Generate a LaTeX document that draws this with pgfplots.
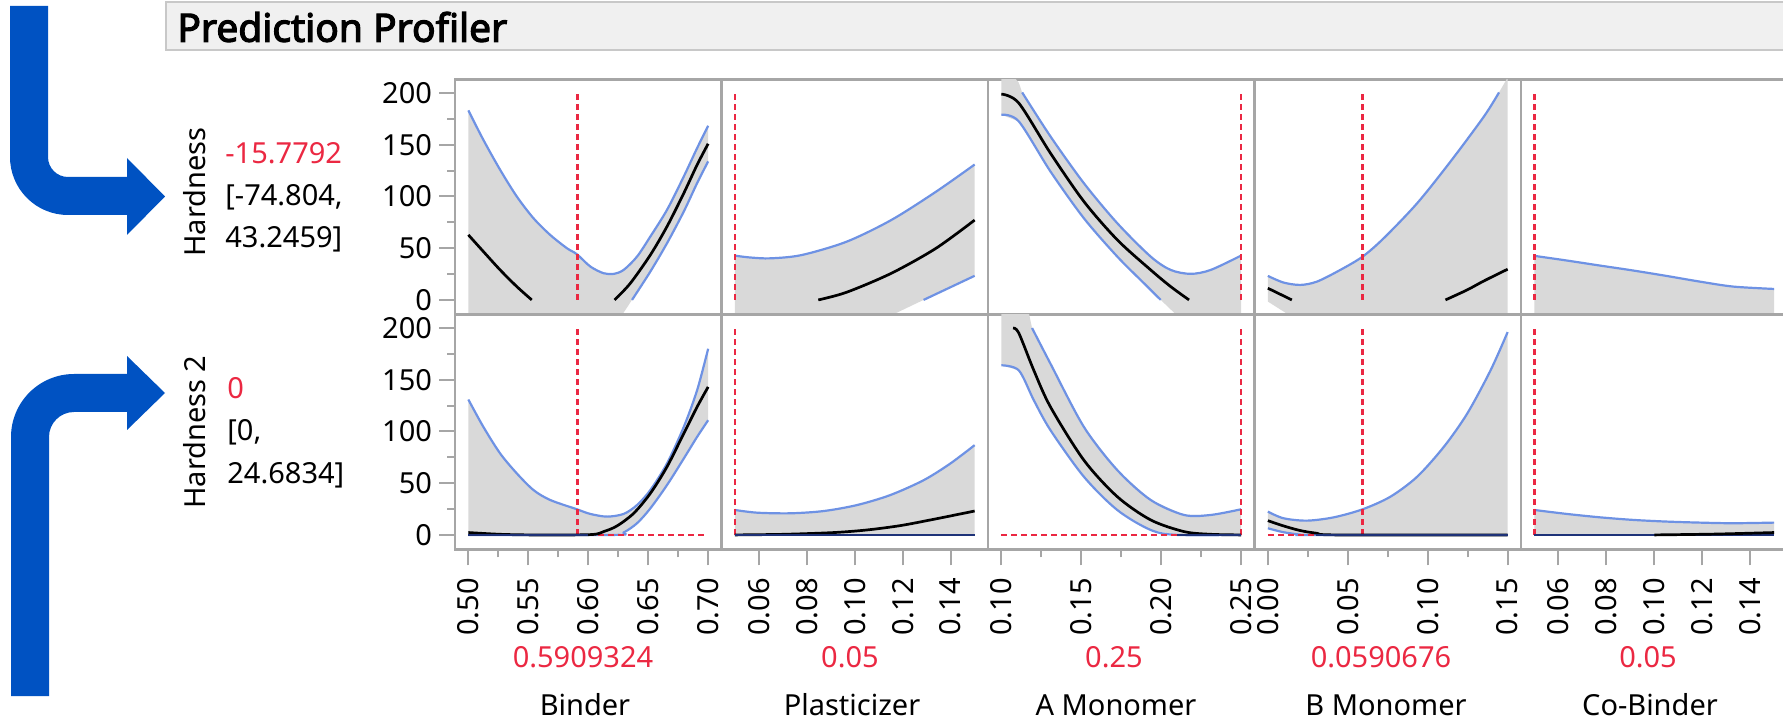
\documentclass[border=0pt]{standalone}
\usepackage{fontspec}
\setmainfont{Noto Sans}
\newfontfamily\titlefont{Noto Sans}[FakeBold=3]
\usepackage{pgfplots}
\pgfplotsset{compat=1.18}

\definecolor{framegray}{RGB}{166,166,166}
\definecolor{bandgray}{RGB}{217,217,217}
\definecolor{cib}{RGB}{110,146,228}
\definecolor{jmpred}{RGB}{235,40,66}
\definecolor{navy}{RGB}{30,50,120}
\definecolor{arrowblue}{RGB}{0,82,194}
\definecolor{titlefill}{RGB}{240,240,240}
\definecolor{titleedge}{RGB}{200,200,200}

\pgfplotsset{
  prof/.style={
    anchor=south west, scale only axis,
    width=133.25pt, height=117.5pt,
    ymin=-13.9, ymax=213.3,
    axis line style={draw=framegray, line width=1.3pt},
    xtick=\empty, ytick=\empty,
    tick align=outside, tick pos=left,
    major tick length=8pt, minor tick length=4pt,
    tick style={draw=framegray, line width=1pt},
    ticklabel style={font=\fontsize{14.5}{17}\selectfont, text=black},
    /pgf/number format/assume math mode=true,
    scaled ticks=false,
  },
  firstcol/.style={
    ytick={0,50,100,150,200}, minor ytick={25,75,125,175},
    yticklabel={\pgfmathprintnumber{\tick}},
  },
  botrow/.style={
    xticklabel={\pgfmathprintnumber[fixed,fixed zerofill,precision=2]{\tick}},
    xticklabel style={rotate=90, anchor=east},
    xticklabel shift=3pt,
  },
  band/.style={fill=bandgray, draw=none},
  ci/.style={cib, line width=1.1pt, smooth, tension=0.5},
  pred/.style={black, line width=1.35pt, smooth, tension=0.5},
  ref/.style={jmpred, line width=1.3pt, dash pattern=on 3pt off 2pt},
  zero/.style={navy, line width=1.35pt},
}

\begin{document}
\begin{tikzpicture}[font=\fontsize{14.5}{17}\selectfont]
\path[use as bounding box] (0,0) rectangle (891.5pt,-360.5pt);

% title bar and arrows (1 unit = one pixel of the reference)
\begin{scope}[x=0.5pt, y=-0.5pt]
  \filldraw[fill=titlefill, draw=titleedge, line width=1pt] (166,2) rectangle (1800,50);
  \node[anchor=west, inner sep=0pt, font=\fontsize{19.5}{23}\titlefont] at (177,27) {Prediction Profiler};
  \fill[arrowblue] (10,6) -- (10,157) arc[start angle=180, end angle=90, radius=58]
    -- (127,215) -- (127,235) -- (165,196.5) -- (127,158) -- (127,177) -- (68,177)
    arc[start angle=90, end angle=180, radius=20] -- (48,6) -- cycle;
  \fill[arrowblue] (11,696) -- (11,437) arc[start angle=180, end angle=270, radius=63]
    -- (127,374) -- (127,356) -- (165,393) -- (127,430) -- (127,412) -- (74,412)
    arc[start angle=270, end angle=180, radius=25] -- (49,696) -- cycle;
  % response labels
  \node[rotate=90] at (195,192) {Hardness};
  \node[rotate=90] at (195,432) {Hardness 2};
  \node[anchor=base west, inner sep=0pt, text=jmpred] at (225,164) {-15.7792};
  \node[anchor=base west, inner sep=0pt] at (225,206) {[-74.804,};
  \node[anchor=base west, inner sep=0pt] at (225,248) {43.2459]};
  \node[anchor=base west, inner sep=0pt, text=jmpred] at (227,399) {0};
  \node[anchor=base west, inner sep=0pt] at (227,441) {[0,};
  \node[anchor=base west, inner sep=0pt] at (227,483) {24.6834]};
  % factor settings and names
  \node[text=jmpred] at (583,657) {0.5909324};
  \node[text=jmpred] at (850,657) {0.05};
  \node[text=jmpred] at (1114,657) {0.25};
  \node[text=jmpred] at (1381,657) {0.0590676};
  \node[text=jmpred] at (1648,657) {0.05};
  \node at (585,705) {Binder};
  \node at (852,705) {Plasticizer};
  \node at (1116,705) {A Monomer};
  \node at (1386,705) {B Monomer};
  \node at (1650,705) {Co-Binder};
\end{scope}

%---------------- Hardness (top row)
\begin{axis}[prof, firstcol, at={(227.5pt,-157.15pt)}, xmin=0.48886, xmax=0.71114]
\addplot[band] coordinates {(0.5,183.2) (0.5125,154.8) (0.5265,125.8) (0.5404,100.0) (0.5543,79.0) (0.5682,62.9) (0.5822,50.0) (0.5905,44.2) (0.6017,32.3) (0.6128,25.8) (0.6212,25.2) (0.6295,29.0) (0.6407,41.9) (0.6518,61.3) (0.6657,87.1) (0.6797,119.4) (0.6908,146.8) (0.7,168.4) (0.7,133.9) (0.6908,112.9) (0.6797,85.5) (0.6657,54.8) (0.6518,27.4) (0.6365,0) (0.6295,-12.3) (0.6194,-30) (0.5,-30)};
\addplot[ci] coordinates {(0.5,183.2) (0.5125,154.8) (0.5265,125.8) (0.5404,100.0) (0.5543,79.0) (0.5682,62.9) (0.5822,50.0) (0.5905,44.2) (0.6017,32.3) (0.6128,25.8) (0.6212,25.2) (0.6295,29.0) (0.6407,41.9) (0.6518,61.3) (0.6657,87.1) (0.6797,119.4) (0.6908,146.8) (0.7,168.4)};
\addplot[ci] coordinates {(0.6365,0) (0.6518,27.4) (0.6657,54.8) (0.6797,85.5) (0.6908,112.9) (0.7,133.9)};
\addplot[ref] coordinates {(0.5909324,0) (0.5909324,200)};
\addplot[pred] coordinates {(0.5,62.9) (0.5125,46.8) (0.5265,29.0) (0.5404,12.9) (0.5529,0)};
\addplot[pred] coordinates {(0.622,0) (0.6351,16.1) (0.6518,43.5) (0.6657,71.0) (0.6797,103.2) (0.6908,130.6) (0.7,151.0)};
\end{axis}

\begin{axis}[prof, at={(360.75pt,-157.15pt)}, xmin=0.04443, xmax=0.15557]
\addplot[band] coordinates {(0.05,42.8) (0.0565,41.0) (0.0649,40.2) (0.0779,43.4) (0.0966,56.3) (0.1152,77.2) (0.1338,104.5) (0.15,130.9) (0.15,23.3) (0.1287,0) (0.1176,-12.3) (0.1015,-30) (0.05,-30)};
\addplot[ci] coordinates {(0.05,42.8) (0.0565,41.0) (0.0649,40.2) (0.0779,43.4) (0.0966,56.3) (0.1152,77.2) (0.1338,104.5) (0.15,130.9)};
\addplot[ci] coordinates {(0.1287,0) (0.15,23.3)};
\addplot[ref] coordinates {(0.05,0) (0.05,200)};
\addplot[pred] coordinates {(0.0848,0) (0.0966,7.4) (0.1152,25.7) (0.1338,49.8) (0.15,77.2)};
\end{axis}

\begin{axis}[prof, at={(494pt,-157.15pt)}, xmin=0.09164, xmax=0.25836]
\addplot[band] coordinates {(0.1,230) (0.1109,210) (0.1130,200.6) (0.1307,158.1) (0.1516,112.9) (0.1725,74.2) (0.1934,41.9) (0.2059,29.0) (0.2184,25.2) (0.2310,29.0) (0.25,42.9) (0.25,-30) (0.2195,-30) (0.2080,-12.3) (0.1997,0) (0.1892,16.1) (0.1725,41.9) (0.1516,79.0) (0.1307,124.2) (0.1109,172.6) (0.1,179.0)};
\addplot[ci] coordinates {(0.1130,200.6) (0.1307,158.1) (0.1516,112.9) (0.1725,74.2) (0.1934,41.9) (0.2059,29.0) (0.2184,25.2) (0.2310,29.0) (0.25,42.9)};
\addplot[ci] coordinates {(0.1,179.0) (0.1109,172.6) (0.1307,124.2) (0.1516,79.0) (0.1725,41.9) (0.1892,16.1) (0.1997,0)};
\addplot[ref] coordinates {(0.25,0) (0.25,200)};
\addplot[pred] coordinates {(0.1,199.0) (0.1109,190.3) (0.1307,141.9) (0.1516,95.2) (0.1725,58.1) (0.1934,29.0) (0.2059,12.9) (0.2174,0)};
\end{axis}

\begin{axis}[prof, at={(627.25pt,-157.15pt)}, xmin=-0.00836, xmax=0.15836]
\addplot[band] coordinates {(0,23.2) (0.0098,16.8) (0.0203,14.5) (0.0307,17.7) (0.0453,29.0) (0.0593,41.9) (0.0725,59.7) (0.0934,93.5) (0.1143,133.9) (0.1352,177.4) (0.1446,200.6) (0.15,215) (0.15,230) (0.15,-30) (0.0165,-30) (0.0109,-12.3) (0,-1.6)};
\addplot[ci] coordinates {(0,23.2) (0.0098,16.8) (0.0203,14.5) (0.0307,17.7) (0.0453,29.0) (0.0593,41.9) (0.0725,59.7) (0.0934,93.5) (0.1143,133.9) (0.1352,177.4) (0.1446,200.6)};
\addplot[ref] coordinates {(0.0590676,0) (0.0590676,200)};
\addplot[pred] coordinates {(0,11.3) (0.015,0)};
\addplot[pred] coordinates {(0.1111,0) (0.1247,9.7) (0.1352,18.4) (0.15,29.7)};
\end{axis}

\begin{axis}[prof, at={(760.5pt,-157.15pt)}, xmin=0.04443, xmax=0.15557]
\addplot[band] coordinates {(0.05,42.6) (0.0635,38.1) (0.0774,33.2) (0.0913,28.4) (0.1051,23.2) (0.119,17.7) (0.1329,12.9) (0.15,10.6) (0.15,-30) (0.05,-30)};
\addplot[ci] coordinates {(0.05,42.6) (0.0635,38.1) (0.0774,33.2) (0.0913,28.4) (0.1051,23.2) (0.119,17.7) (0.1329,12.9) (0.15,10.6)};
\addplot[ref] coordinates {(0.05,0) (0.05,200)};
\end{axis}

%---------------- Hardness 2 (bottom row)
\begin{axis}[prof, firstcol, botrow, at={(227.5pt,-274.65pt)}, xmin=0.48886, xmax=0.71114,
  xtick={0.5,0.55,0.6,0.65,0.7}, minor xtick={0.525,0.575,0.625,0.675}]
\addplot[band] coordinates {(0.5,130.9) (0.5125,104.5) (0.5265,78.8) (0.5404,59.5) (0.5543,43.4) (0.5682,33.8) (0.5905,24.8) (0.6017,20.3) (0.6156,17.7) (0.6295,20.3) (0.6407,28.9) (0.6518,43.4) (0.6657,69.1) (0.6797,104.5) (0.6908,139.9) (0.7,180.0) (0.7,110.9) (0.6908,94.8) (0.6797,73.9) (0.6657,48.2) (0.6518,25.7) (0.6407,11.3) (0.6295,2.3) (0.6212,0) (0.5,0)};
\addplot[ci] coordinates {(0.5,130.9) (0.5125,104.5) (0.5265,78.8) (0.5404,59.5) (0.5543,43.4) (0.5682,33.8) (0.5905,24.8) (0.6017,20.3) (0.6156,17.7) (0.6295,20.3) (0.6407,28.9) (0.6518,43.4) (0.6657,69.1) (0.6797,104.5) (0.6908,139.9) (0.7,180.0)};
\addplot[ci] coordinates {(0.5,0) (0.6212,0) (0.6295,2.3) (0.6407,11.3) (0.6518,25.7) (0.6657,48.2) (0.6797,73.9) (0.6908,94.8) (0.7,110.9)};
\addplot[ref] coordinates {(0.5909324,0) (0.5909324,200)};
\addplot[ref] coordinates {(0.5,0) (0.7,0)};
\addplot[pred] coordinates {(0.5,2.3) (0.5265,0.6) (0.5543,0) (0.6017,0.3) (0.6128,3.2) (0.6240,8.7) (0.6379,20.9) (0.6518,40.2) (0.6657,65.9) (0.6797,98.1) (0.6908,123.8) (0.7,143.1)};
\addplot[zero] coordinates {(0.5,0) (0.6,0)};
\end{axis}

\begin{axis}[prof, botrow, at={(360.75pt,-274.65pt)}, xmin=0.04443, xmax=0.15557,
  xtick={0.06,0.08,0.10,0.12,0.14}]
\addplot[band] coordinates {(0.05,24.1) (0.0593,21.5) (0.0732,20.9) (0.0871,23.1) (0.101,28.9) (0.1149,38.6) (0.1288,53.0) (0.1399,69.1) (0.15,86.8) (0.15,0) (0.05,0)};
\addplot[ci] coordinates {(0.05,24.1) (0.0593,21.5) (0.0732,20.9) (0.0871,23.1) (0.101,28.9) (0.1149,38.6) (0.1288,53.0) (0.1399,69.1) (0.15,86.8)};
\addplot[ci] coordinates {(0.05,0) (0.15,0)};
\addplot[ref] coordinates {(0.05,0) (0.05,200)};
\addplot[ref] coordinates {(0.05,0) (0.15,0)};
\addplot[pred] coordinates {(0.05,0) (0.0704,0.6) (0.0913,2.3) (0.1051,4.8) (0.119,9.0) (0.1329,15.1) (0.15,23.1)};
\addplot[zero] coordinates {(0.05,0) (0.15,0)};
\end{axis}

\begin{axis}[prof, botrow, at={(494pt,-274.65pt)}, xmin=0.09164, xmax=0.25836,
  xtick={0.1,0.15,0.2,0.25}, minor xtick={0.125,0.175,0.225}]
\addplot[band] coordinates {(0.1,240) (0.1137,240) (0.1192,200) (0.1307,165.6) (0.1516,104.5) (0.1725,62.7) (0.1934,33.8) (0.2143,19.3) (0.2310,19.3) (0.25,24.8) (0.25,0) (0.2101,0) (0.1934,4.8) (0.1725,24.1) (0.1516,56.3) (0.1307,101.3) (0.1203,130.2) (0.1109,159.1) (0.1,164.0)};
\addplot[ci] coordinates {(0.1192,200) (0.1307,165.6) (0.1516,104.5) (0.1725,62.7) (0.1934,33.8) (0.2143,19.3) (0.2310,19.3) (0.25,24.8)};
\addplot[ci] coordinates {(0.1,164.0) (0.1109,159.1) (0.1203,130.2) (0.1307,101.3) (0.1516,56.3) (0.1725,24.1) (0.1934,4.8) (0.2101,0) (0.25,0)};
\addplot[ref] coordinates {(0.25,0) (0.25,200)};
\addplot[ref] coordinates {(0.1,0) (0.25,0)};
\addplot[pred] coordinates {(0.1073,200) (0.1109,195.2) (0.1203,159.1) (0.1307,123.8) (0.1516,72.3) (0.1725,37.0) (0.1934,14.5) (0.2143,3.2) (0.2310,0.6) (0.25,0)};
\addplot[zero] coordinates {(0.21,0) (0.25,0)};
\end{axis}

\begin{axis}[prof, botrow, at={(627.25pt,-274.65pt)}, xmin=-0.00836, xmax=0.15836,
  xtick={0,0.05,0.1,0.15}, minor xtick={0.025,0.075,0.125}]
\addplot[band] coordinates {(0,22.5) (0.0098,16.1) (0.0244,13.8) (0.0412,17.0) (0.0593,24.8) (0.0767,37.0) (0.0934,56.3) (0.1101,85.2) (0.1247,117.3) (0.1393,159.1) (0.15,196.1) (0.15,0) (0.0265,0) (0.0203,0.3) (0.0098,2.6) (0,6.4)};
\addplot[ci] coordinates {(0,22.5) (0.0098,16.1) (0.0244,13.8) (0.0412,17.0) (0.0593,24.8) (0.0767,37.0) (0.0934,56.3) (0.1101,85.2) (0.1247,117.3) (0.1393,159.1) (0.15,196.1)};
\addplot[ci] coordinates {(0,6.4) (0.0098,2.6) (0.0203,0.3) (0.0265,0) (0.15,0)};
\addplot[ref] coordinates {(0.0590676,0) (0.0590676,200)};
\addplot[ref] coordinates {(0,0) (0.15,0)};
\addplot[pred] coordinates {(0,13.8) (0.0098,8.7) (0.0203,4.2) (0.0307,1.6) (0.0432,0) (0.15,0)};
\addplot[zero] coordinates {(0.03,0) (0.15,0)};
\end{axis}

\begin{axis}[prof, botrow, at={(760.5pt,-274.65pt)}, xmin=0.04443, xmax=0.15557,
  xtick={0.06,0.08,0.10,0.12,0.14}]
\addplot[band] coordinates {(0.05,24.1) (0.0635,20.3) (0.0774,17.0) (0.0913,14.5) (0.1051,12.9) (0.119,11.9) (0.1329,11.3) (0.15,11.9) (0.15,0) (0.05,0)};
\addplot[ci] coordinates {(0.05,24.1) (0.0635,20.3) (0.0774,17.0) (0.0913,14.5) (0.1051,12.9) (0.119,11.9) (0.1329,11.3) (0.15,11.9)};
\addplot[ci] coordinates {(0.05,0) (0.15,0)};
\addplot[ref] coordinates {(0.05,0) (0.05,200)};
\addplot[ref] coordinates {(0.05,0) (0.15,0)};
\addplot[zero] coordinates {(0.05,0) (0.15,0)};
\addplot[pred] coordinates {(0.1,0) (0.125,0.8) (0.15,2.3)};
\end{axis}
\end{tikzpicture}
\end{document}
